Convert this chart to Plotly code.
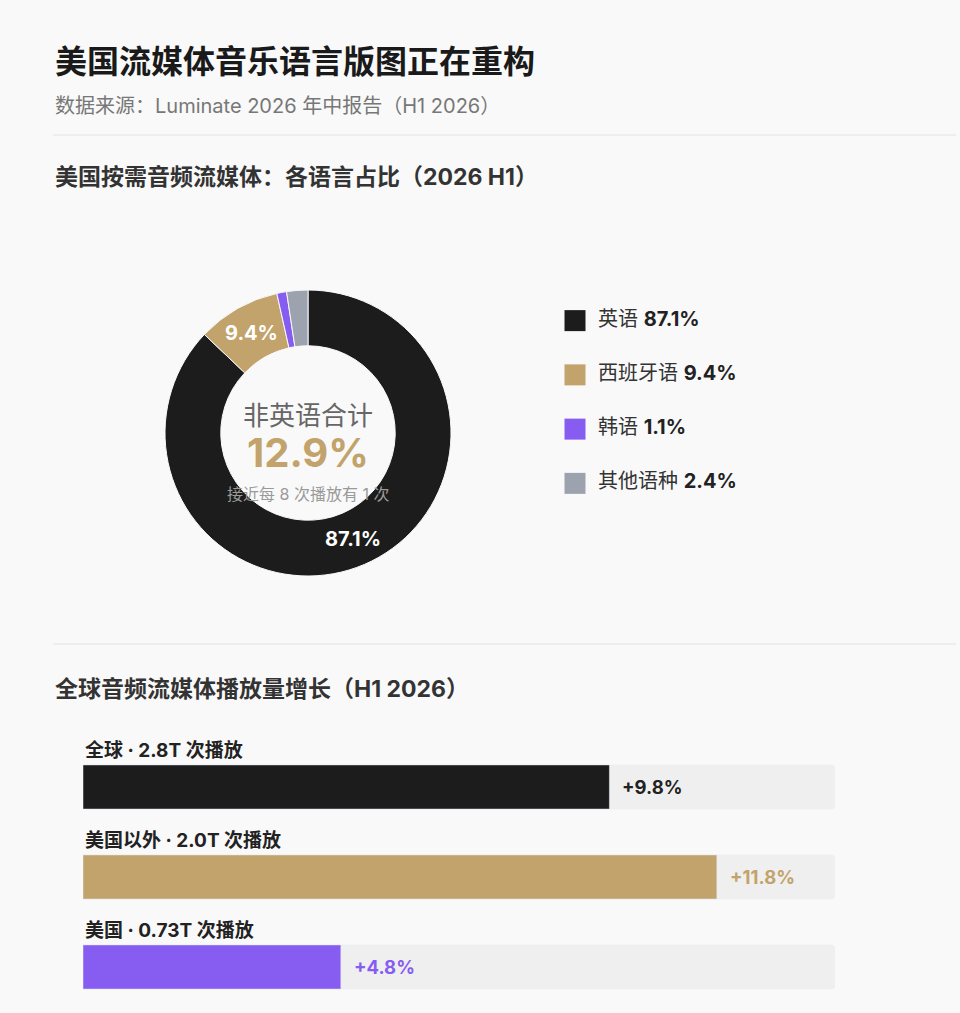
import math
import plotly.graph_objects as go

# ---------------- data ----------------
languages = ["英语", "西班牙语", "韩语", "其他语种"]
lang_share = [87.1, 9.4, 1.1, 2.4]
lang_colors = ["#1c1c1c", "#c2a36b", "#875cf0", "#9ca3af"]
lang_show_label = [True, True, False, False]

regions = ["全球", "美国以外", "美国"]
region_streams = ["2.8T", "2.0T", "0.73T"]
region_growth = [9.8, 11.8, 4.8]
region_colors = ["#1c1c1c", "#c2a36b", "#875cf0"]
region_label_colors = ["#222222", "#c2a36b", "#875cf0"]
growth_axis_max = 14

title = "美国流媒体音乐语言版图正在重构"
subtitle = "数据来源：Luminate 2026 年中报告（H1 2026）"
section1 = "美国按需音频流媒体：各语言占比（2026 H1）"
section2 = "全球音频流媒体播放量增长（H1 2026）"
center_title = "非英语合计"
center_note = "接近每 8 次播放有 1 次"

# ---------------- layout helpers ----------------
W, H = 960, 1013
BG = "#f9f9f9"
FONT = "Inter, 'Noto Sans CJK SC', 'Noto Sans', sans-serif"


def px(x):
    return x / W


def py(y):
    return 1 - y / H


# donut geometry (pixels)
PIE_CX, PIE_CY, PIE_R = 308, 433, 143
HOLE = 0.61

fig = go.Figure()

fig.add_trace(go.Pie(
    labels=languages,
    values=lang_share,
    marker=dict(colors=lang_colors, line=dict(color=BG, width=1)),
    hole=HOLE,
    sort=False,
    direction="clockwise",
    rotation=0,
    textinfo="none",
    showlegend=False,
    domain=dict(x=[px(PIE_CX - PIE_R), px(PIE_CX + PIE_R)],
                y=[py(PIE_CY + PIE_R), py(PIE_CY - PIE_R)]),
    hoverinfo="label+percent",
))

# legend built on its own axes: swatches at x=0, labels starting at x=1
ly = list(range(len(languages)))
fig.add_trace(go.Scatter(
    x=[0] * len(languages), y=ly, mode="markers",
    marker=dict(symbol="square", size=21, color=lang_colors),
    cliponaxis=False, showlegend=False, hoverinfo="skip",
    xaxis="x2", yaxis="y2",
))
fig.add_trace(go.Scatter(
    x=[1] * len(languages), y=ly, mode="text",
    text=[f"<span style='color:#333'>{n}</span> <b>{v:.1f}%</b>" for n, v in zip(languages, lang_share)],
    textposition="middle right",
    textfont=dict(family=FONT, size=20, color="#222222"),
    cliponaxis=False, showlegend=False, hoverinfo="skip",
    xaxis="x2", yaxis="y2",
))

# growth bars: track + values
yidx = list(range(len(regions)))
fig.add_trace(go.Bar(
    x=[growth_axis_max] * len(regions), y=yidx, orientation="h",
    marker=dict(color="#efefef"), width=0.49, showlegend=False, hoverinfo="skip",
    xaxis="x3", yaxis="y3",
))
fig.add_trace(go.Bar(
    x=region_growth, y=yidx, orientation="h",
    marker=dict(color=region_colors), width=0.49, showlegend=False,
    xaxis="x3", yaxis="y3",
))

annotations = [
    dict(text=title, x=px(53), y=py(62), xref="paper", yref="paper", xanchor="left", yanchor="middle",
         showarrow=False, font=dict(family=FONT, size=32, color="#1a1a1a", weight=700)),
    dict(text=subtitle, x=px(53), y=py(106), xref="paper", yref="paper", xanchor="left", yanchor="middle",
         showarrow=False, font=dict(family=FONT, size=20, color="#777777")),
    dict(text=section1, x=px(53), y=py(177), xref="paper", yref="paper", xanchor="left", yanchor="middle",
         showarrow=False, font=dict(family=FONT, size=23, color="#333333", weight=700)),
    dict(text=section2, x=px(53), y=py(689), xref="paper", yref="paper", xanchor="left", yanchor="middle",
         showarrow=False, font=dict(family=FONT, size=23, color="#333333", weight=700)),
    dict(text=center_title, x=px(PIE_CX), y=py(415), xref="paper", yref="paper", xanchor="center", yanchor="middle",
         showarrow=False, font=dict(family=FONT, size=26, color="#666666")),
    dict(text=f"{sum(lang_share[1:]):.1f}%", x=px(PIE_CX), y=py(452), xref="paper", yref="paper",
         xanchor="center", yanchor="middle",
         showarrow=False, font=dict(family=FONT, size=40, color=lang_colors[1], weight=700)),
    dict(text=center_note, x=px(PIE_CX), y=py(494), xref="paper", yref="paper", xanchor="center", yanchor="middle",
         showarrow=False, font=dict(family=FONT, size=16, color="#9a9a9a")),
]

# slice value labels placed at each slice's mid-angle on the ring
total = sum(lang_share)
r_mid = PIE_R * (1 + HOLE) / 2
cum = 0.0
for v, show in zip(lang_share, lang_show_label):
    mid = (cum + v / 2) / total * 2 * math.pi
    cum += v
    if not show:
        continue
    lx = PIE_CX + r_mid * math.sin(mid)
    lyp = PIE_CY - r_mid * math.cos(mid)
    annotations.append(dict(text=f"{v:.1f}%", x=px(lx), y=py(lyp), xref="paper", yref="paper",
                            xanchor="center", yanchor="middle", showarrow=False,
                            font=dict(family=FONT, size=20, color="#ffffff", weight=700)))

for i, (r, s, g, c) in enumerate(zip(regions, region_streams, region_growth, region_label_colors)):
    annotations.append(dict(text=f"{r} · {s} 次播放", x=0, y=i, xref="x3", yref="y3",
                            xanchor="left", yanchor="middle", yshift=37, showarrow=False,
                            font=dict(family=FONT, size=19, color="#222222", weight=700)))
    annotations.append(dict(text=f"+{g:.1f}%", x=g, y=i, xref="x3", yref="y3",
                            xanchor="left", yanchor="middle", xshift=11, showarrow=False,
                            font=dict(family=FONT, size=18.5, color=c, weight=700)))

shapes = [
    dict(type="line", xref="paper", yref="paper", x0=px(53), x1=px(956), y0=py(135), y1=py(135),
         line=dict(color="#e2e2e2", width=1)),
    dict(type="line", xref="paper", yref="paper", x0=px(53), x1=px(956), y0=py(644), y1=py(644),
         line=dict(color="#e2e2e2", width=1)),
]

hidden = dict(visible=False, showgrid=False, zeroline=False, fixedrange=True)
fig.update_layout(
    width=W, height=H,
    margin=dict(l=0, r=0, t=0, b=0),
    paper_bgcolor=BG, plot_bgcolor=BG,
    font=dict(family=FONT),
    barmode="overlay",
    barcornerradius=4,
    annotations=annotations,
    shapes=shapes,
    xaxis=dict(**hidden, domain=[0, 0.01]),
    yaxis=dict(**hidden, domain=[0, 0.01]),
    xaxis2=dict(**hidden, domain=[px(575), px(598)], range=[0, 1]),
    yaxis2=dict(**hidden, domain=[py(510.5), py(293.5)], range=[3.5, -0.5]),
    xaxis3=dict(**hidden, domain=[px(83), px(835)], range=[0, growth_axis_max]),
    yaxis3=dict(**hidden, domain=[py(1012), py(742)], range=[2.5, -0.5]),
)

fig.write_html(
    "out.html",
    config={"displayModeBar": False},
    post_script="document.body.style.margin='0';document.body.style.background='%s';"
                "document.body.style.overflow='hidden';" % BG,
)
